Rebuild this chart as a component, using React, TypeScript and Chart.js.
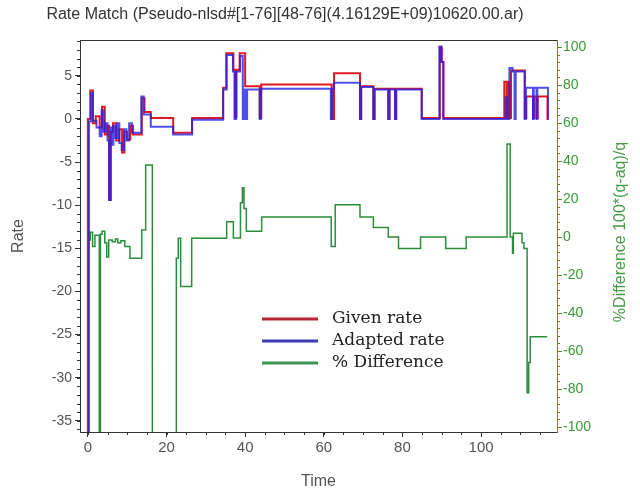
import React, { useEffect, useRef } from 'react';
import { Chart, registerables } from 'chart.js';
Chart.register(...registerables);

const chartTitle = 'Rate Match (Pseudo-nlsd#[1-76][48-76](4.16129E+09)10620.00.ar)';
const seriesNames = ['Given rate', 'Adapted rate', '% Difference'];
const xTitle = 'Time';
const leftTitle = 'Rate';
const rightTitle = '%Difference 100*(q-aq)/q';

const timeTicks = [0, 20, 40, 60, 80, 100];
const rateTicks = [-35, -30, -25, -20, -15, -10, -5, 0, 5];
const diffTicks = [-100, -80, -60, -40, -20, 0, 20, 40, 60, 80, 100];

const givenTime = [-0.4, 0.0, 0.6, 1.3, 2.0, 3.0, 3.6, 4.3, 5.0, 5.4, 5.8, 6.4, 7.2, 8.0, 8.7, 9.3, 10.0, 10.8, 11.5, 13.7, 14.4, 16.0, 21.7, 26.5,
  34.4, 35.2, 37.0, 37.4, 37.8, 38.6, 40.0, 43.7, 44.1, 62.0, 62.6, 69.2, 69.5, 72.6, 72.9, 76.4, 76.7, 78.1, 78.4, 84.9, 89.5, 90.0, 90.4,
  105.9, 106.5, 106.8, 107.3, 107.6, 111.1, 111.5, 113.2, 113.5, 114.1, 114.4, 116.9, 117.1];
const givenRate = [-37, 0, 3.3, -0.5, 0.3, -1.0, 1.4, -1.8, -0.8, -9.4, -1.5, -0.5, -2.5, -1.2, -3.9, -1.5, -2.4, -0.8, -1.8, 2.4, 0.8, 0.1, -1.6, 0.1,
  3.6, 7.6, 5.7, 0.2, 5.7, 7.6, 3.8, 0.1, 4.0, 0.0, 5.3, 0.0, 3.8, 0.0, 3.5, 0.0, 3.5, 0.0, 3.5, 0.1, 8.3, 6.6, 0.1,
  4.3, 0.1, 4.3, 0.1, 5.6, 0.1, 2.6, 0.1, 2.6, 0.1, 2.6, 0.0, 0.0];

const adaptedTime = [0.0, 0.3, 0.8, 1.2, 2.2, 3.0, 3.5, 4.0, 4.5, 5.0, 5.4, 5.8, 6.0, 6.5, 7.0, 7.5, 8.0, 8.6, 9.2, 9.8, 10.5, 11.2, 13.6, 14.2, 16.0, 21.7, 26.5,
  34.4, 35.3, 36.9, 37.3, 37.7, 38.7, 39.4, 39.7, 40.2, 40.5, 43.7, 44.0, 61.8, 62.2, 62.6, 69.2, 69.5, 72.6, 72.9, 76.4, 76.7, 78.1, 78.4, 84.9, 89.4, 89.9, 90.4,
  106.2, 106.6, 107.2, 108.0, 108.5, 108.8, 111.1, 111.4, 113.2, 113.4, 114.1, 114.3, 117.0, 117.2];
const adaptedRate = [-37, -0.3, 3.0, -0.2, -1.0, -2.0, 1.0, -1.5, -0.5, -2.5, -9.4, -1.0, -3.0, -0.8, -2.2, -0.5, -2.8, -3.6, -1.2, -2.5, -0.5, -1.6, 2.6, 0.5, -0.9, -1.8, -0.1,
  3.4, 7.4, 5.5, 0.0, 5.5, 7.3, 0.0, 3.4, 0.0, 3.4, 0.0, 3.5, 0.0, 3.5, 4.2, 0.0, 3.7, 0.0, 3.4, 0.0, 3.4, 0.0, 3.4, 0.0, 8.4, 6.6, 0.0,
  2.5, 0.0, 5.9, 5.5, 0.0, 5.5, 0.0, 3.6, 0.0, 3.6, 0.0, 3.6, 0.0, 0.0];

const diffTime = [0.0, 0.6, 1.2, 1.8, 2.9, 3.2, 3.6, 4.3, 4.8, 5.3, 6.2, 7.0, 7.6, 8.4, 9.4, 10.7, 13.7, 14.7, 16.4, 22.5, 23.0, 23.6, 26.4,
  35.3, 37.0, 38.8, 39.3, 39.7, 40.3, 44.2, 61.9, 62.9, 69.2, 72.6, 76.4, 79.0, 84.6, 91.0, 96.2,
  106.6, 107.4, 108.0, 108.2, 110.4, 110.9, 111.7, 112.1, 112.5, 116.8];
const diffPct = [-1.5, 2.5, -5, 1, -115, 1.5, 3, -3, -10.5, -1.5, -2.5, -1, -3, -2, -5, -11.2, 3.7, 37.9, -115, -11.2, -0.6, -26, -0.6,
  8, -0.5, 18, 26, 15, 3, 10.5, -5, 17, 10.5, 5, 0, -6, 0, -6, 0,
  49, 0, -8.5, 2, -3, -6, -82, -66, -52.5, -52.5];

const DARK = '#333333';
const GRAY = '#555555';
const GREEN = '#3a9a3a';
const RED = 'rgb(225,25,35)';
const BLUE = 'rgba(35,35,225,0.8)';
const LINE_GREEN = 'rgb(45,140,60)';

const toPts = (xs: number[], ys: number[]) => xs.map((x, i) => ({ x, y: ys[i] }));

const extrasPlugin = {
  id: 'extras',
  afterDraw(chart: any) {
    const { ctx, chartArea } = chart;
    ctx.save();
    ctx.strokeStyle = DARK;
    ctx.lineWidth = 1;
    ctx.beginPath();
    ctx.moveTo(chartArea.left, Math.round(chartArea.top) + 0.5);
    ctx.lineTo(chartArea.right, Math.round(chartArea.top) + 0.5);
    ctx.stroke();

    const specs = [
      { id: 'y', step: 1, color: DARK },
      { id: 'y1', step: 4, color: GREEN },
      { id: 'x', step: 5, color: DARK },
    ];
    for (const s of specs) {
      const sc = chart.scales[s.id];
      ctx.strokeStyle = s.color;
      ctx.beginPath();
      const start = Math.ceil(sc.min / s.step) * s.step;
      for (let v = start; v <= sc.max + 1e-9; v += s.step) {
        const p = Math.round(sc.getPixelForValue(v)) + 0.5;
        if (s.id === 'x') { ctx.moveTo(p, chartArea.bottom); ctx.lineTo(p, chartArea.bottom + 3); }
        else if (s.id === 'y') { ctx.moveTo(chartArea.left, p); ctx.lineTo(chartArea.left - 3, p); }
        else { ctx.moveTo(chartArea.right, p); ctx.lineTo(chartArea.right + 3, p); }
      }
      ctx.stroke();
    }

    ctx.fillStyle = '#333';
    ctx.font = '16px "Liberation Sans", Arial, sans-serif';
    ctx.textAlign = 'center';
    ctx.textBaseline = 'middle';
    ctx.fillText(chartTitle, 285, 15);

    ctx.save();
    ctx.translate(621, 232);
    ctx.rotate(-Math.PI / 2);
    ctx.fillStyle = '#4a9a4a';
    ctx.font = '16px "Liberation Sans", Arial, sans-serif';
    ctx.textAlign = 'center';
    ctx.textBaseline = 'middle';
    ctx.fillText(rightTitle, 0, 0);
    ctx.restore();

    const colors = ['rgb(185,40,50)', 'rgb(60,60,185)', 'rgb(60,150,80)'];
    const ys = [319, 341, 363];
    ctx.font = '17px "DejaVu Serif", serif';
    ctx.textAlign = 'left';
    ctx.textBaseline = 'middle';
    seriesNames.forEach((name, i) => {
      ctx.strokeStyle = colors[i];
      ctx.lineWidth = 3;
      ctx.beginPath();
      ctx.moveTo(262, ys[i]);
      ctx.lineTo(318, ys[i]);
      ctx.stroke();
      ctx.fillStyle = '#222';
      ctx.fillText(name, 332, ys[i]);
    });
    ctx.restore();
  },
};

export default function App() {
  const ref = useRef<HTMLCanvasElement | null>(null);
  useEffect(() => {
    document.body.style.margin = '0';
    const canvas = ref.current;
    if (!canvas) return;
    const chart = new Chart(canvas, {
      type: 'line',
      data: {
        datasets: [
          {
            label: seriesNames[1],
            data: toPts(adaptedTime, adaptedRate),
            borderColor: BLUE,
            borderWidth: 2,
            stepped: true,
            pointRadius: 0,
            yAxisID: 'y',
            order: 1,
          },
          {
            label: seriesNames[0],
            data: toPts(givenTime, givenRate),
            borderColor: RED,
            borderWidth: 2,
            stepped: true,
            pointRadius: 0,
            yAxisID: 'y',
            order: 2,
          },
          {
            label: seriesNames[2],
            data: toPts(diffTime, diffPct),
            borderColor: LINE_GREEN,
            borderWidth: 1.5,
            stepped: true,
            pointRadius: 0,
            yAxisID: 'y1',
            order: 3,
          },
        ],
      },
      options: {
        animation: false,
        responsive: false,
        devicePixelRatio: 1,
        parsing: false as any,
        layout: { padding: { top: 40, left: 0, right: 0, bottom: 0 } },
        plugins: {
          legend: { display: false },
          title: { display: false },
          tooltip: { enabled: false },
        },
        scales: {
          x: {
            type: 'linear',
            min: -2,
            max: 119.3,
            afterFit: (s: any) => { s.height = 61; },
            afterBuildTicks: (s: any) => { s.ticks = timeTicks.map((v) => ({ value: v })); },
            grid: { drawOnChartArea: false, drawTicks: true, tickLength: 5, color: DARK },
            border: { color: DARK, width: 1 },
            ticks: { color: GRAY, font: { size: 15, family: '"Liberation Sans", Arial, sans-serif' }, padding: 2, maxRotation: 0, autoSkip: false },
            title: { display: true, text: xTitle, color: GRAY, font: { size: 16, family: '"Liberation Sans", Arial, sans-serif' }, padding: { top: 0, bottom: 2 } },
          },
          y: {
            type: 'linear',
            position: 'left',
            min: -36.3,
            max: 9.15,
            afterFit: (s: any) => { s.width = 80; },
            afterBuildTicks: (s: any) => { s.ticks = rateTicks.map((v) => ({ value: v })); },
            grid: { drawOnChartArea: false, drawTicks: true, tickLength: 5, color: DARK },
            border: { color: DARK, width: 1 },
            ticks: { color: GRAY, font: { size: 14, family: '"Liberation Sans", Arial, sans-serif' }, padding: 3, autoSkip: false },
            title: { display: true, text: leftTitle, color: GRAY, font: { size: 16, family: '"Liberation Sans", Arial, sans-serif' }, padding: { top: 9, bottom: 0 } },
          },
          y1: {
            type: 'linear',
            position: 'right',
            min: -102.6,
            max: 103.7,
            afterFit: (s: any) => { s.width = 83; },
            afterBuildTicks: (s: any) => { s.ticks = diffTicks.map((v) => ({ value: v })); },
            grid: { drawOnChartArea: false, drawTicks: true, tickLength: 5, color: GREEN },
            border: { color: GREEN, width: 1 },
            ticks: { color: GREEN, font: { size: 14, family: '"Liberation Sans", Arial, sans-serif' }, padding: 1, autoSkip: false },
          },
        },
      },
      plugins: [extrasPlugin],
    });
    return () => chart.destroy();
  }, []);
  return (
    <div style={{ width: 640, height: 493, position: 'relative' }}>
      <canvas ref={ref} width={640} height={493} style={{ display: 'block' }} />
    </div>
  );
}
